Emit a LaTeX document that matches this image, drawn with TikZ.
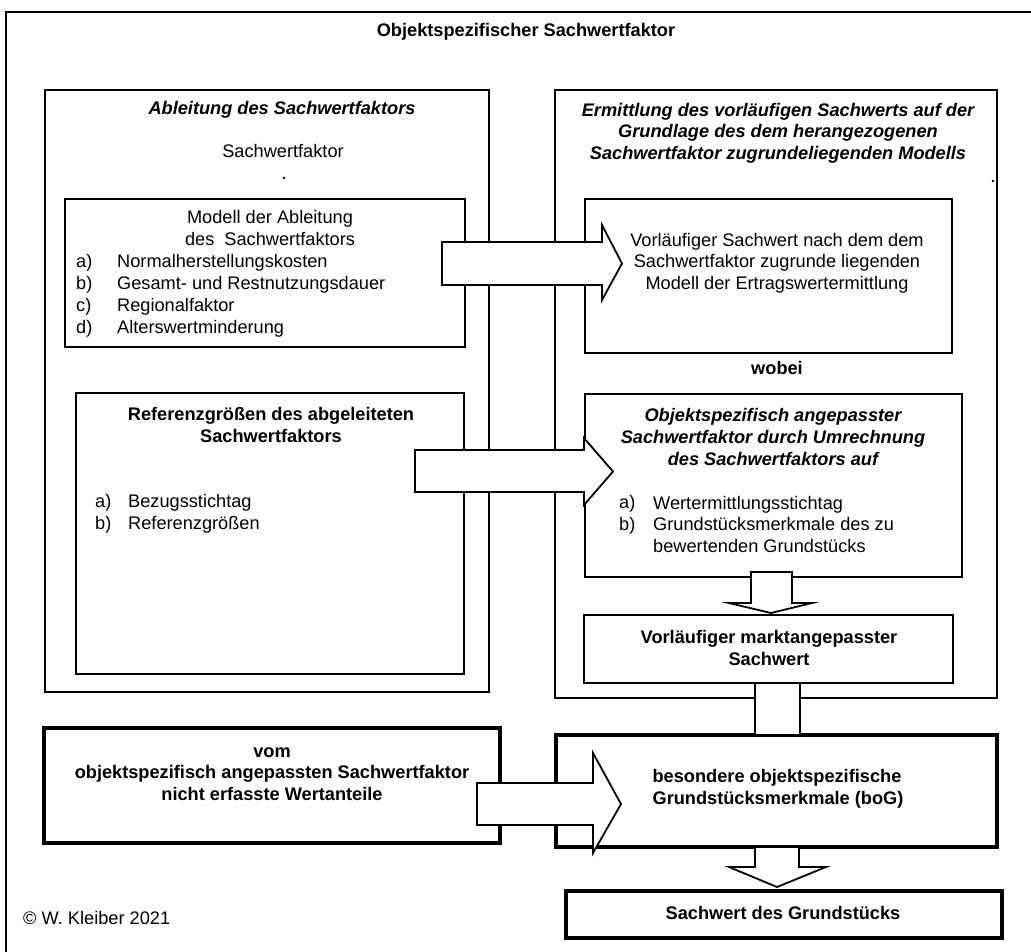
\documentclass[tikz,border=0pt]{standalone}
\usepackage{fontspec}
\setmainfont{Liberation Sans}

\tikzset{
  box/.style={draw, line width=1.8pt, fill=white, inner sep=0pt},
  boldbox/.style={box, line width=3.2pt},
  blockarrow/.style={draw, line width=1.8pt, fill=white, line join=miter},
  txt/.style={inner sep=0pt, align=center, font=\fontsize{18.2}{21.7}\selectfont},
  btxt/.style={txt, font=\fontsize{18.2}{21.7}\selectfont\bfseries},
  bitxt/.style={txt, font=\fontsize{18.2}{21.7}\selectfont\bfseries\itshape},
}

\begin{document}
\begin{tikzpicture}[x=1pt,y=-1pt]

\useasboundingbox (0,0) rectangle (1031,951);
\clip (0,0) rectangle (1031,951);

% outer frame
\draw[line width=1.8pt] (6,12) rectangle (1045,965);

% boxes
\node[box, minimum width=444pt, minimum height=602pt] (abl) at (267,391) {};
\node[box, minimum width=442pt, minimum height=608pt] (erm) at (776,394) {};
\node[box, minimum width=400pt, minimum height=148pt] (modell) at (265,273) {};
\node[box, minimum width=388pt, minimum height=281pt] (referenz) at (270,533.5) {};
\node[box, minimum width=367pt, minimum height=154pt] (vorl) at (768.5,276) {};
\node[box, minimum width=377pt, minimum height=183pt] (objekt) at (773.5,485.5) {};
\node[box, minimum width=369pt, minimum height=68pt] (markt) at (768.5,649) {};
\node[boldbox, minimum width=456pt, minimum height=115pt] (vom) at (272,785.5) {};
\node[boldbox, minimum width=441pt, minimum height=112pt] (besondere) at (776.5,791) {};
\node[boldbox, minimum width=436pt, minimum height=47pt] (sachwert) at (784,914.5) {};

% block arrows
\draw[blockarrow] (442,242) -- (602,242) -- (602,225) -- (622,263.5) -- (602,300) -- (602,285) -- (442,285) -- cycle;
\draw[blockarrow] (415,450) -- (584,450) -- (584,438) -- (613,471.5) -- (584,505) -- (584,492) -- (415,492) -- cycle;
\draw[blockarrow] (477,783) -- (593,783) -- (593,753) -- (621,804) -- (593,853) -- (593,825) -- (477,825) -- cycle;
\draw[blockarrow] (751,572) -- (751,603) -- (729,603) -- (771,613) -- (812,603) -- (792,603) -- (792,572) -- cycle;
\draw[blockarrow] (755,683) rectangle (800,735);
\draw[blockarrow] (755,847) -- (755,867) -- (729,867) -- (777,887) -- (826,867) -- (799,867) -- (799,847) -- cycle;

% dots
\fill (284,178) circle (1.3pt);
\fill (993,181) circle (1.3pt);

% texts (base = baseline of the last line)
\node[btxt] (title) at (526,32) {Objektspezifischer Sachwertfaktor};
\node[bitxt] (ablhead) at (282,110) {Ableitung des Sachwertfaktors};
\node[txt] (ablsub) at (283,151) {Sachwertfaktor};
\node[bitxt] (ermhead) at (778,133) {Ermittlung des vorläufigen Sachwerts auf der\\Grundlage des dem herangezogenen\\Sachwertfaktor zugrundeliegenden Modells};

\node[txt] (modhead) at (270,228) {Modell der Ableitung\\des\ \ Sachwertfaktors};
\node[txt, align=left, anchor=base west] (modlab) at (76,333) {a)\\b)\\c)\\d)};
\node[txt, align=left, anchor=base west] (moditem) at (117,333) {Normalherstellungskosten\\Gesamt- und Restnutzungsdauer\\Regionalfaktor\\Alterswertminderung};

\node[txt] (vorltext) at (777,263) {Vorläufiger Sachwert nach dem dem\\Sachwertfaktor zugrunde liegenden\\Modell der Ertragswertermittlung};
\node[btxt] (wobei) at (777,368) {wobei};

\node[btxt] (refhead) at (271,425) {Referenzgrößen des abgeleiteten\\Sachwertfaktors};
\node[txt, align=left, anchor=base west] (reflab) at (95,529.5) {a)\\b)};
\node[txt, align=left, anchor=base west] (refitem) at (128,529.5) {Bezugsstichtag\\Referenzgrößen};

\node[bitxt] (objhead) at (773,437) {Objektspezifisch angepasster\\Sachwertfaktor durch Umrechnung\\des Sachwertfaktors auf};
\node[txt, align=left, anchor=base west] (objlab) at (619,530.5) {a)\\b)};
\node[txt, align=left, anchor=base west] (objitem) at (653,552.5) {Wertermittlungsstichtag\\Grundstücksmerkmale des zu\\bewertenden Grundstücks};

\node[btxt] (markttext) at (769,648) {Vorläufiger marktangepasster\\Sachwert};
\node[btxt] (vomtext) at (272,774) {vom\\objektspezifisch angepassten Sachwertfaktor\\nicht erfasste Wertanteile};
\node[btxt, align=left] (bestext) at (778,789) {besondere objektspezifische\\Grundstücksmerkmale (boG)};
\node[btxt] (swtext) at (783,913) {Sachwert des Grundstücks};
\node[txt, anchor=west] (copy) at (23,918) {© W. Kleiber 2021};

\end{tikzpicture}
\end{document}
